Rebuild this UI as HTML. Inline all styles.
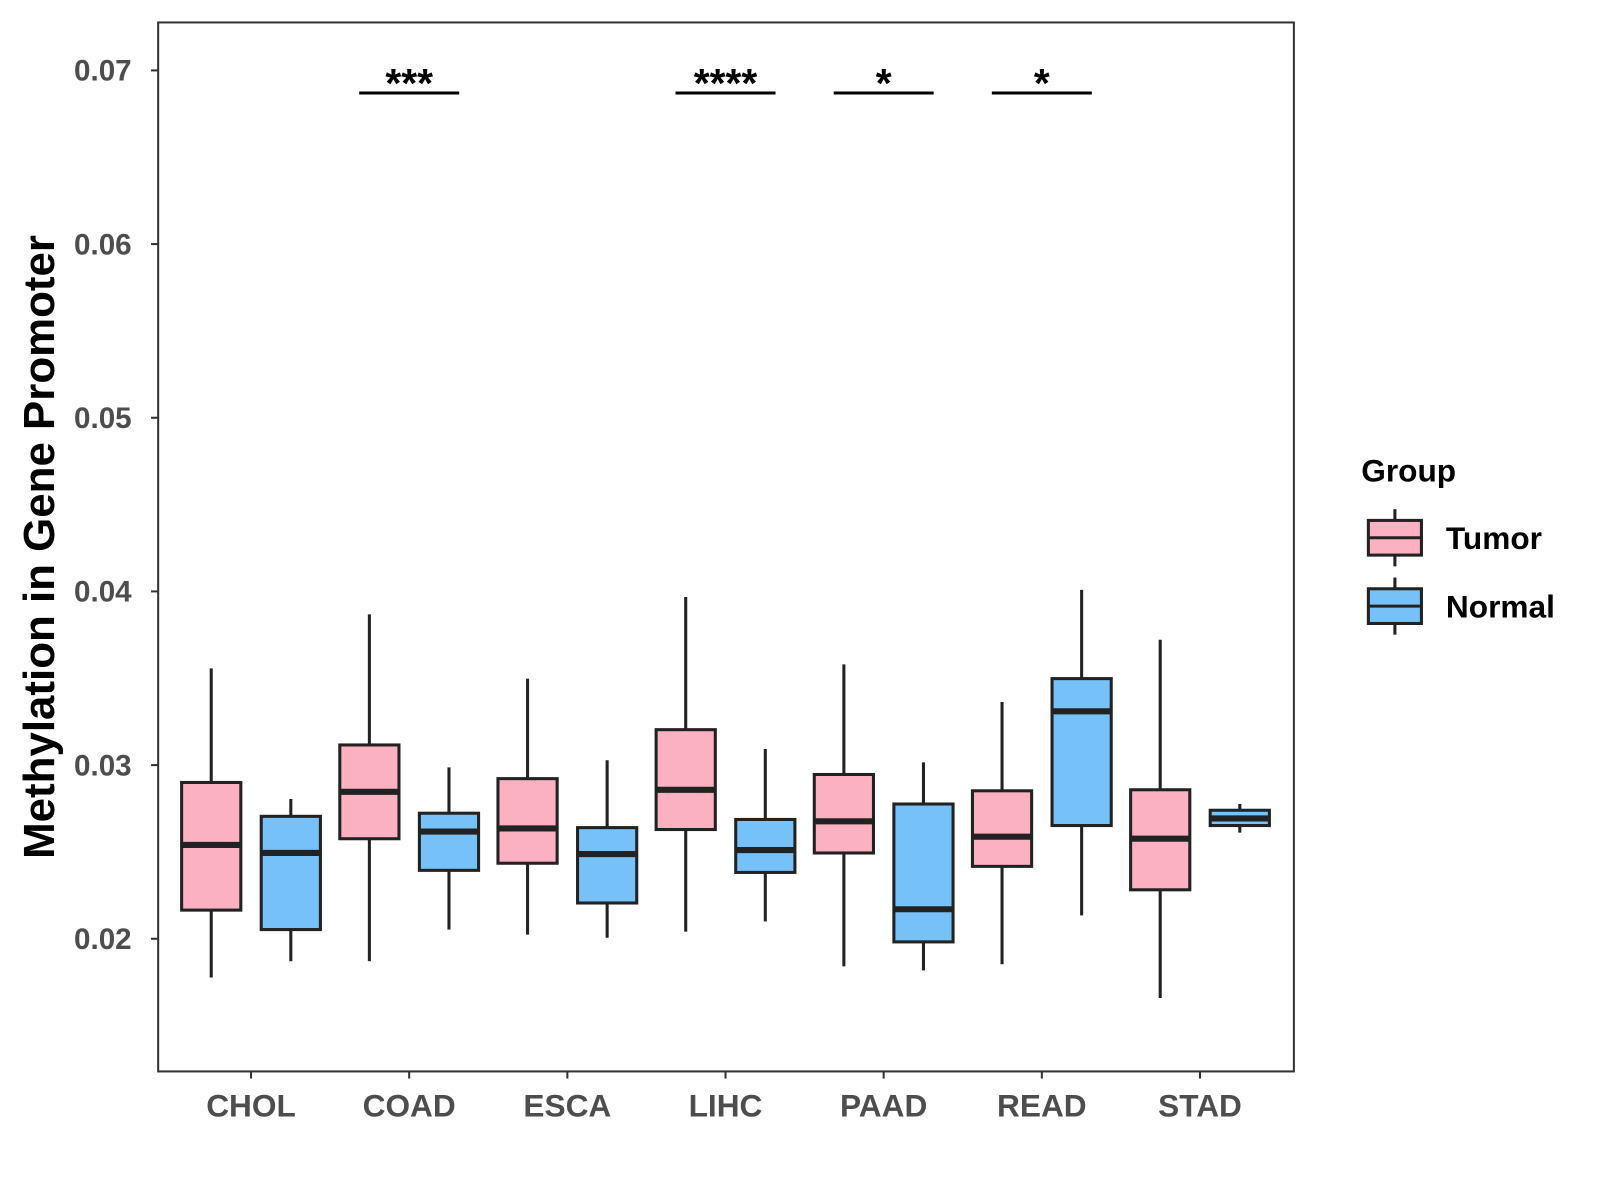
<!DOCTYPE html>
<html><head><meta charset="utf-8"><style>
body{margin:0;background:#fff;}
svg{display:block;font-family:"Liberation Sans",Arial,sans-serif;}
</style></head><body>
<svg id="chart" width="1600" height="1200" viewBox="0 0 1568 1176"></svg>
<script>
const categories=["CHOL","COAD","ESCA","LIHC","PAAD","READ","STAD"];
const tumorLo=[0.01777,0.01871,0.02024,0.02041,0.01841,0.01853,0.01659];
const tumorQ1=[0.02165,0.02576,0.02435,0.02629,0.02494,0.02417,0.02282];
const tumorMed=[0.0254,0.02846,0.02635,0.02858,0.02676,0.02588,0.02576];
const tumorQ3=[0.0290,0.03116,0.02922,0.03204,0.02946,0.02852,0.02858];
const tumorHi=[0.03557,0.03868,0.03498,0.03968,0.03580,0.03363,0.03722];
const normalLo=[0.01871,0.02053,0.02006,0.02100,0.01818,0.02135,0.02611];
const normalQ1=[0.02053,0.02394,0.02206,0.02382,0.01982,0.02652,0.02652];
const normalMed=[0.02494,0.02617,0.02488,0.02511,0.02170,0.03310,0.02693];
const normalQ3=[0.02705,0.02723,0.02640,0.02687,0.02776,0.03498,0.02740];
const normalHi=[0.02805,0.02987,0.03028,0.03093,0.03016,0.04009,0.02776];
const sigLabels=["","***","","****","*","*",""];
const yTicks=[0.02,0.03,0.04,0.05,0.06,0.07];
const sigLevel=0.0687;

const NS="http://www.w3.org/2000/svg";
const svg=document.getElementById("chart");
const y=v=>920-(v-0.02)*17020;
const x=i=>246+i*155;
function el(tag,attrs,parent){const e=document.createElementNS(NS,tag);for(const k in attrs)e.setAttribute(k,attrs[k]);(parent||svg).appendChild(e);return e;}

const panel=el("rect",{x:155,y:22,width:1113,height:1028,fill:"none",stroke:"#333",'stroke-width':2});



yTicks.forEach(t=>{
  const tk=el("line",{x1:148,x2:155,y1:y(t),y2:y(t),stroke:"#333",'stroke-width':2});
  
  
  const tx=el("text",{x:129,y:y(t)+10,'text-anchor':'end','font-size':29,'font-weight':'bold',fill:'#4d4d4d'});
  tx.textContent=t.toFixed(2);
  
  
});
const yt=el("text",{x:0,y:0,transform:"translate(53,536) rotate(-90)",'text-anchor':'middle','font-size':43,'font-weight':'bold',fill:'#000'});
yt.textContent="Methylation in Gene Promoter";



function box(cx,lo,q1,md,q3,hi,fill,name){
  const g=el("g",{});
  
  
  el("line",{x1:cx,x2:cx,y1:y(hi),y2:y(q3),stroke:"#222",'stroke-width':3},g);
  el("line",{x1:cx,x2:cx,y1:y(q1),y2:y(lo),stroke:"#222",'stroke-width':3},g);
  el("rect",{x:cx-29,y:y(q3),width:58,height:y(q1)-y(q3),fill:fill,stroke:"#222",'stroke-width':3},g);
  el("line",{x1:cx-29,x2:cx+29,y1:y(md),y2:y(md),stroke:"#222",'stroke-width':6},g);
}
categories.forEach((c,i)=>{
  box(x(i)-39,tumorLo[i],tumorQ1[i],tumorMed[i],tumorQ3[i],tumorHi[i],"#fbb1c2","box-tumor-"+c.toLowerCase());
  box(x(i)+39,normalLo[i],normalQ1[i],normalMed[i],normalQ3[i],normalHi[i],"#76c1f8","box-normal-"+c.toLowerCase());
  const tk=el("line",{x1:x(i),x2:x(i),y1:1050,y2:1057,stroke:"#333",'stroke-width':2});
  
  
  const tx=el("text",{x:x(i),y:1094,'text-anchor':'middle','font-size':31,'font-weight':'bold',fill:'#4d4d4d'});
  tx.textContent=c;
  
  
  if(sigLabels[i]){
    const br=el("line",{x1:x(i)-49,x2:x(i)+49,y1:y(sigLevel),y2:y(sigLevel),stroke:"#000",'stroke-width':3});
    
    
    const st=el("text",{x:x(i),y:y(sigLevel)+4,'text-anchor':'middle','font-size':40,'font-weight':'bold',fill:'#000'});
    st.textContent=sigLabels[i];
    
    
  }
});

const lt=el("text",{x:1334,y:472,'font-size':31,'font-weight':'bold',fill:'#000'});
lt.textContent="Group";


[["Tumor","#fbb1c2",527],["Normal","#76c1f8",594]].forEach(([n,f,cy])=>{
  const g=el("g",{});
  
  
  el("line",{x1:1367,x2:1367,y1:cy-28,y2:cy+28,stroke:"#222",'stroke-width':3},g);
  el("rect",{x:1341,y:cy-17,width:52,height:34,fill:f,stroke:"#222",'stroke-width':3},g);
  el("line",{x1:1341,x2:1393,y1:cy,y2:cy,stroke:"#222",'stroke-width':3},g);
  const t=el("text",{x:1417,y:cy+11,'font-size':31,'font-weight':'bold',fill:'#000'},g);
  t.textContent=n;
});
</script>
</body></html>
